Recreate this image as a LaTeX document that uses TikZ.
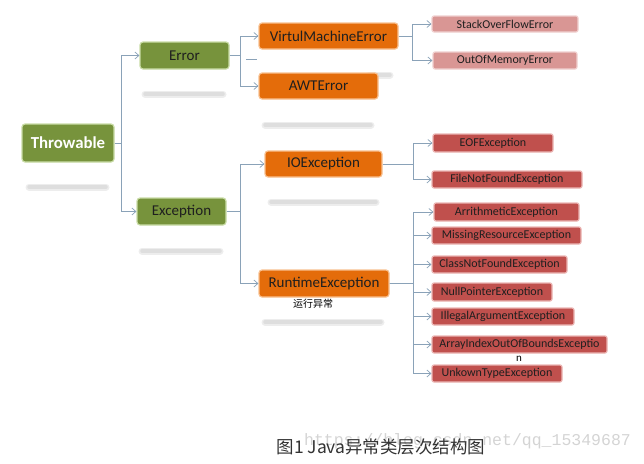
\documentclass[tikz,border=0pt]{standalone}
\usepackage{fontspec}
\setmainfont{Carlito}
\newfontfamily\cjk{Noto Sans CJK SC}
\newfontfamily\wmfont{Liberation Mono}
\usetikzlibrary{arrows.meta}
\definecolor{grn}{HTML}{77933C}
\definecolor{grnedge}{HTML}{C9DCA6}
\definecolor{org}{HTML}{E46C0A}
\definecolor{orgedge}{HTML}{F8C08F}
\definecolor{pnk}{HTML}{D99694}
\definecolor{pnkedge}{HTML}{F0D0CF}
\definecolor{rd}{HTML}{C0504D}
\definecolor{rdedge}{HTML}{EBB5B3}
\definecolor{conncol}{HTML}{8AA2B8}
\tikzset{
  box/.style={rounded corners=3pt, inner sep=0pt, line width=1.2pt, text=black!88, align=center},
  gbox/.style={box, fill=grn, draw=grnedge, font=\fontsize{15}{17}\selectfont},
  obox/.style={box, fill=org, draw=orgedge, font=\fontsize{15}{17}\selectfont},
  pbox/.style={box, fill=pnk, draw=pnkedge, rounded corners=2pt, font=\fontsize{12}{14}\selectfont},
  rbox/.style={box, fill=rd, draw=rdedge, rounded corners=2pt, font=\fontsize{12}{14}\selectfont},
  conn/.style={draw=conncol, line width=0.7pt},
  arr/.style={conn, -{Straight Barb[length=4pt,width=7pt,line width=0.7pt]}},
  shadowbar/.style={line cap=round, draw=black!7, line width=7pt},
  shadowcore/.style={line cap=round, draw=black!13, line width=3.5pt},
}
\newcommand{\sbar}[3]{\draw[shadowbar] (#1,#3) -- (#2,#3); \draw[shadowcore] (#1,#3) -- (#2,#3);}
\begin{document}
\begin{tikzpicture}[x=1pt,y=-1pt]
\useasboundingbox (0,0) rectangle (644,463);
% blurred reflections
\sbar{29}{106}{187}
\sbar{145}{223}{94}
\sbar{265}{371}{125}
\sbar{369}{390}{75}
\sbar{271}{376}{202}
\sbar{142}{220}{251}
\sbar{265}{381}{322}
% nodes
\node[gbox, minimum width=92pt, minimum height=38pt, text=white, font=\fontsize{16.8}{19}\selectfont\bfseries] (thr) at (68,143) {Throwable};
\node[gbox, minimum width=89pt, minimum height=27pt] (err) at (184.5,55.5) {Error};
\node[gbox, minimum width=89pt, minimum height=27pt] (exc) at (181.5,211.5) {Exception};
\node[obox, minimum width=139pt, minimum height=26pt] (vme) at (328.5,36) {VirtulMachineError};
\node[obox, minimum width=119pt, minimum height=26pt] (awt) at (318.5,86) {AWTError};
\node[obox, minimum width=117pt, minimum height=26pt] (ioe) at (323.5,164) {IOException};
\node[obox, minimum width=130pt, minimum height=27pt] (rte) at (324,283.5) {RuntimeException};
\node[pbox, minimum width=146pt, minimum height=16pt] (sof) at (505,24) {StackOverFlowError};
\node[pbox, minimum width=144pt, minimum height=17pt] (oom) at (505,60.5) {OutOfMemoryError};
\node[rbox, minimum width=120pt, minimum height=18pt] (eof) at (493,143) {EOFException};
\node[rbox, minimum width=150pt, minimum height=17pt] (fnf) at (507,179.5) {FileNotFoundException};
\node[rbox, minimum width=145pt, minimum height=18pt] (ari) at (506.5,212) {ArrithmeticException};
\node[rbox, minimum width=149pt, minimum height=17pt] (mis) at (506.5,235.5) {MissingResourceException};
\node[rbox, minimum width=135pt, minimum height=17pt] (cnf) at (499.5,264.5) {ClassNotFoundException};
\node[rbox, minimum width=120pt, minimum height=18pt] (npe) at (492,292) {NullPointerException};
\node[rbox, minimum width=142pt, minimum height=17pt] (iae) at (503,316.5) {IllegalArgumentException};
\node[rbox, minimum width=175pt, minimum height=17pt] (aio) at (519.5,344.5) {ArrayIndexOutOfBoundsExceptio};
\node[font=\fontsize{11}{12}\selectfont, inner sep=0pt] (aion) at (519,359) {n};
\node[rbox, minimum width=130pt, minimum height=17pt] (ukt) at (497,373.5) {UnkownTypeException};
\node[font=\cjk\fontsize{10}{12}\selectfont, inner sep=0pt] (rtlbl) at (313,304) {运行异常};
% connectors
\draw[arr] (thr.east) -- ++(7,0) |- (err.west);
\draw[arr] (thr.east) -- ++(7,0) |- (exc.west);
\draw[arr] (err.east) -- ++(11,0) |- (vme.west);
\draw[arr] (err.east) -- ++(11,0) |- (awt.west);
\draw[conn] (246,59) coordinate (d1) -- (257,59) coordinate (d2);
\draw[arr] (exc.east) -- ++(14,0) |- (ioe.west);
\draw[arr] (exc.east) -- ++(14,0) |- (rte.west);
\draw[arr] (vme.east) -- ++(14,0) |- (sof.west);
\draw[arr] (vme.east) -- ++(14,0) |- (oom.west);
\draw[arr] (ioe.east) -- ++(31,0) |- (eof.west);
\draw[arr] (ioe.east) -- ++(31,0) |- (fnf.west);
\foreach \c in {ari,mis,cnf,npe,iae,aio,ukt}{
  \draw[arr] (rte.east) -- ++(24,0) |- (\c.west);
}
% watermark and caption
\node[font=\wmfont\fontsize{16.5}{18}\selectfont, text=black!17, inner sep=0pt] (wm) at (467.5,441) {https://blog.csdn.net/qq\_15349687};
\node[font=\cjk\fontsize{17.5}{19}\selectfont, text=black!80, inner sep=0pt] (cap) at (381,447) {图1 Java异常类层次结构图};
\end{tikzpicture}
\end{document}
